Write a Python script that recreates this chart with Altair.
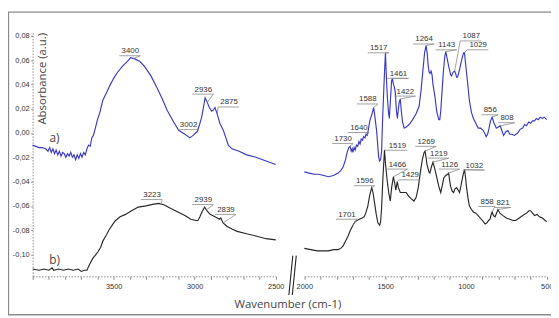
import altair as alt
import pandas as pd
import numpy as np

# ---------------- data ----------------
# spectrum a) , 4000-2500 cm-1 part
a_left_wn = [4000, 3980, 3960, 3940, 3920, 3905, 3895, 3885, 3875, 3865, 3855, 3845, 3835, 3825,
             3815, 3805, 3795, 3785, 3775, 3765, 3755, 3745, 3735, 3725, 3715, 3705, 3695, 3685,
             3675, 3665, 3655, 3645, 3635, 3625, 3615, 3600, 3585, 3567, 3545, 3524, 3500, 3476,
             3445, 3415, 3395, 3370, 3340, 3311, 3270, 3232, 3200, 3171, 3130, 3098, 3060, 3030,
             3010, 2995, 2985, 2970, 2957, 2945, 2936, 2925, 2910, 2895, 2884, 2875, 2862, 2845,
             2823, 2805, 2793, 2770, 2726, 2680, 2622, 2560, 2500]
a_left_val = [-0.010, -0.011, -0.012, -0.012, -0.013, -0.015, -0.012, -0.016, -0.013, -0.017, -0.014,
              -0.018, -0.015, -0.019, -0.016, -0.017, -0.020, -0.017, -0.019, -0.016, -0.020, -0.018,
              -0.022, -0.018, -0.021, -0.017, -0.020, -0.016, -0.018, -0.013, -0.010, -0.011, -0.004,
              -0.002, 0.003, 0.011, 0.017, 0.027, 0.033, 0.039, 0.045, 0.050, 0.055, 0.059, 0.062,
              0.061, 0.059, 0.055, 0.047, 0.037, 0.028, 0.019, 0.009, 0.002, -0.001, -0.004, -0.002,
              0.000, 0.001, 0.007, 0.013, 0.022, 0.029, 0.026, 0.021, 0.018, 0.019, 0.021, 0.016,
              0.008, 0.002, -0.005, -0.010, -0.013, -0.015, -0.018, -0.020, -0.023, -0.026]

# spectrum b) , 4000-2500 cm-1 part
b_left_wn = [4000, 3960, 3930, 3900, 3880, 3870, 3840, 3810, 3780, 3750, 3720, 3700, 3680, 3665,
             3655, 3640, 3628, 3615, 3598, 3580, 3567, 3545, 3530, 3505, 3488, 3460, 3427, 3390,
             3348, 3300, 3268, 3223, 3190, 3150, 3104, 3060, 3024, 2990, 2980, 2968, 2955, 2939,
             2925, 2905, 2890, 2860, 2848, 2839, 2825, 2800, 2770, 2738, 2680, 2616, 2560, 2500]
b_left_val = [-0.112, -0.113, -0.112, -0.113, -0.111, -0.113, -0.112, -0.113, -0.112, -0.113, -0.112,
              -0.114, -0.113, -0.113, -0.110, -0.106, -0.103, -0.101, -0.098, -0.094, -0.089, -0.084,
              -0.080, -0.075, -0.072, -0.069, -0.067, -0.064, -0.061, -0.060, -0.059, -0.058, -0.059,
              -0.062, -0.065, -0.068, -0.071, -0.072, -0.072, -0.069, -0.065, -0.061, -0.064, -0.067,
              -0.068, -0.070, -0.071, -0.070, -0.074, -0.077, -0.079, -0.081, -0.083, -0.085, -0.087,
              -0.088]

# spectrum a) , 2000-500 cm-1 part
a_right_wn = [2000, 1970, 1940, 1910, 1880, 1850, 1820, 1791, 1775, 1760, 1745, 1735, 1725, 1717,
              1710, 1704, 1699, 1692, 1685, 1678, 1670, 1662, 1655, 1648, 1640, 1633, 1625, 1618,
              1611, 1605, 1595, 1583, 1571, 1562, 1553, 1546, 1540, 1534, 1528, 1522, 1516, 1504,
              1498, 1492, 1486, 1480, 1474, 1466, 1460, 1455, 1449, 1443, 1437, 1430, 1424, 1418,
              1412, 1406, 1400, 1392, 1382, 1370, 1351, 1330, 1308, 1290, 1278, 1266, 1256, 1247,
              1240, 1234, 1228, 1222, 1216, 1210, 1204, 1192, 1180, 1168, 1162, 1156, 1150, 1140,
              1131, 1125, 1119, 1107, 1095, 1089, 1080, 1070, 1064, 1058, 1052, 1040, 1027, 1015,
              1009, 1003, 991, 979, 966, 954, 939, 924, 909, 893, 881, 875, 866, 857, 848, 838,
              826, 812, 800, 788, 778, 767, 753, 741, 729, 716, 700, 680, 665, 649, 637, 625, 612,
              600, 588, 576, 564, 552, 540, 527, 516, 500]
a_right_val = [-0.032, -0.033, -0.034, -0.034, -0.035, -0.036, -0.035, -0.033, -0.031, -0.028, -0.022,
               -0.016, -0.012, -0.011, -0.015, -0.013, -0.016, -0.012, -0.014, -0.010, -0.011, -0.007,
               -0.009, -0.005, -0.006, -0.003, -0.004, -0.001, -0.002, 0.002, 0.010, 0.015, 0.021,
               0.012, 0.002, -0.010, -0.020, -0.023, -0.022, -0.015, 0.010, 0.050, 0.066, 0.045,
               0.029, 0.018, 0.012, 0.030, 0.043, 0.045, 0.040, 0.038, 0.033, 0.018, 0.012, 0.020,
               0.026, 0.028, 0.018, 0.009, 0.004, 0.005, 0.007, 0.011, 0.016, 0.022, 0.035, 0.052,
               0.066, 0.072, 0.066, 0.056, 0.050, 0.049, 0.051, 0.048, 0.040, 0.030, 0.017, 0.011,
               0.011, 0.018, 0.030, 0.050, 0.063, 0.067, 0.063, 0.055, 0.048, 0.047, 0.050, 0.051,
               0.049, 0.046, 0.046, 0.052, 0.060, 0.066, 0.066, 0.058, 0.043, 0.027, 0.017, 0.012,
               0.008, 0.004, 0.004, 0.002, -0.001, -0.003, -0.001, 0.004, 0.010, 0.013, 0.008, 0.004,
               0.005, 0.006, 0.002, -0.002, 0.001, 0.002, -0.001, -0.001, -0.002, 0.000, 0.003,
               0.004, 0.007, 0.006, 0.009, 0.008, 0.010, 0.010, 0.012, 0.011, 0.013, 0.012, 0.013,
               0.011]

# spectrum b) , 2000-500 cm-1 part
b_right_wn = [2000, 1960, 1920, 1888, 1850, 1820, 1791, 1775, 1760, 1745, 1730, 1715, 1699, 1686,
              1674, 1660, 1643, 1630, 1620, 1607, 1595, 1583, 1575, 1565, 1555, 1545, 1534, 1528,
              1522, 1513, 1504, 1498, 1486, 1477, 1468, 1460, 1449, 1440, 1434, 1425, 1418, 1406,
              1390, 1370, 1355, 1339, 1322, 1308, 1295, 1283, 1270, 1259, 1253, 1247, 1241, 1229,
              1223, 1214, 1204, 1192, 1180, 1168, 1156, 1146, 1137, 1125, 1113, 1107, 1101, 1095,
              1085, 1076, 1068, 1058, 1048, 1040, 1030, 1020, 1009, 1003, 997, 988, 979, 966, 954,
              939, 924, 905, 893, 881, 870, 860, 851, 844, 838, 830, 820, 811, 802, 790, 771, 750,
              729, 710, 692, 670, 649, 625, 610, 600, 588, 576, 560, 545, 527, 510, 500]
b_right_val = [-0.095, -0.096, -0.097, -0.097, -0.097, -0.096, -0.096, -0.095, -0.093, -0.089, -0.085,
               -0.080, -0.076, -0.073, -0.072, -0.071, -0.070, -0.069, -0.066, -0.060, -0.051, -0.045,
               -0.049, -0.058, -0.067, -0.074, -0.076, -0.073, -0.062, -0.035, -0.014, -0.025, -0.041,
               -0.050, -0.056, -0.045, -0.036, -0.042, -0.047, -0.040, -0.045, -0.049, -0.049, -0.049,
               -0.052, -0.054, -0.056, -0.053, -0.045, -0.033, -0.022, -0.016, -0.015, -0.020, -0.026,
               -0.032, -0.033, -0.028, -0.024, -0.030, -0.037, -0.044, -0.049, -0.043, -0.037, -0.035,
               -0.034, -0.033, -0.039, -0.044, -0.048, -0.049, -0.046, -0.045, -0.047, -0.049, -0.043,
               -0.036, -0.030, -0.036, -0.044, -0.053, -0.060, -0.063, -0.065, -0.066, -0.068, -0.071,
               -0.073, -0.075, -0.074, -0.072, -0.071, -0.067, -0.065, -0.068, -0.069, -0.066, -0.063,
               -0.066, -0.068, -0.070, -0.071, -0.072, -0.072, -0.070, -0.068, -0.066, -0.064, -0.064,
               -0.066, -0.068, -0.067, -0.069, -0.070, -0.072, -0.073]

# peak annotations: text, text position (wn, absorbance), series, peak position (wn)
left_lab_text = ["3400", "3002", "2936", "2875", "3223", "2939", "2839"]
left_lab_x = [3397, 3038, 2947, 2788, 3263, 2947, 2807]
left_lab_y = [0.0673, 0.0065, 0.0357, 0.0251, -0.0511, -0.0552, -0.0633]
left_lab_series = ["a", "a", "a", "a", "b", "b", "b"]
left_lab_peak = [3378, 2983, 2922, 2861, 3208, 2928, 2825]

right_lab_text = ["1730", "1640", "1588", "1517", "1461", "1422", "1264", "1143", "1087", "1029",
                  "856", "808",
                  "1701", "1596", "1519", "1466", "1429", "1269", "1219", "1126", "1032", "858", "821"]
right_lab_x = [1760, 1662, 1607, 1540, 1418, 1375, 1259, 1119, 967, 924, 850, 746,
               1736, 1626, 1424, 1424, 1345, 1246, 1168, 1101, 948, 869, 771]
right_lab_y = [-0.0049, 0.0041, 0.0276, 0.0697, 0.0487, 0.0341, 0.0770, 0.0722, 0.0795, 0.0722,
               0.0187, 0.0122,
               -0.0673, -0.0397, -0.0105, -0.0260, -0.0349, -0.0073, -0.0170, -0.0260, -0.0268,
               -0.0568, -0.0576]
right_lab_series = ["a"] * 12 + ["b"] * 11
right_lab_peak = [1717, 1613, 1571, 1498, 1455, 1406, 1247, 1125, 1070, 1009, 838, 790,
                  1699, 1583, 1504, 1449, 1425, 1253, 1204, 1107, 1009, 838, 802]

curve_tags = ["a)", "b)"]
curve_tag_x = [3865, 3865]
curve_tag_y = [-0.004, -0.1046]

# ---------------- tables ----------------
df_left = pd.DataFrame({"wn": a_left_wn + b_left_wn, "val": a_left_val + b_left_val,
                        "series": ["a"] * len(a_left_wn) + ["b"] * len(b_left_wn)})
df_right = pd.DataFrame({"wn": a_right_wn + b_right_wn, "val": a_right_val + b_right_val,
                         "series": ["a"] * len(a_right_wn) + ["b"] * len(b_right_wn)})

curves = {
    ("L", "a"): (a_left_wn, a_left_val), ("L", "b"): (b_left_wn, b_left_val),
    ("R", "a"): (a_right_wn, a_right_val), ("R", "b"): (b_right_wn, b_right_val),
}


def curve_at(side, s, w):
    xs, ys_ = curves[(side, s)]
    return float(np.interp(w, xs[::-1], ys_[::-1]))


def leaders(side, texts, xs, ys_, series, peaks, k):
    rows = []
    for t, x, y, s, p in zip(texts, xs, ys_, series, peaks):
        hw = 4.6 * len(t) / 2 + 1          # half text width (px)
        lft, rgt = x + (hw + 1) * k, x - hw * k
        uy = y - 0.0037
        pv = curve_at(side, s, p)
        if p > lft:
            pts = [(p, pv), (lft, uy), (rgt, uy)]
        else:
            pts = [(lft, uy), (rgt, uy), (p, pv)]
        for i, (px, py) in enumerate(pts):
            rows.append({"lab": t + s, "ord": i, "wn": px, "val": py})
    return pd.DataFrame(rows)


lead_left = leaders("L", left_lab_text, left_lab_x, left_lab_y, left_lab_series, left_lab_peak, 6.083)
lead_right = leaders("R", right_lab_text, right_lab_x, right_lab_y, right_lab_series, right_lab_peak, 6.105)
lab_left = pd.DataFrame({"t": left_lab_text, "x": left_lab_x, "y": left_lab_y})
lab_right = pd.DataFrame({"t": right_lab_text, "x": right_lab_x, "y": right_lab_y})
tags = pd.DataFrame({"t": curve_tags, "x": curve_tag_x, "y": curve_tag_y})

# ---------------- scales / axes ----------------
W, H = 526, 248
ys = alt.Scale(domain=[-0.118, 0.0832], nice=False, zero=False)
xl = alt.Scale(domain=[4000, 2500], range=[0, 246.7], nice=False, zero=False)
xr = alt.Scale(domain=[2000, 500], range=[275.7, 521.7], nice=False, zero=False)

common = dict(domainDash=[1.5, 1.5], domainColor="#8c8c8c", tickColor="#8c8c8c",
              labelFont="Liberation Sans", labelFontSize=7.5, labelColor="#333333", grid=False,
              labelOverlap=False, labelFlush=False)

x_left_axis = alt.Axis(orient="bottom", values=list(range(4000, 2499, -100)),
                       labelExpr="datum.value % 500 === 0 && datum.value < 4000 ? format(datum.value, 'd') : ''",
                       tickSize=3, labelPadding=3,
                       title="Wavenumber (cm-1)", titleX=258.5, titleY=29, titleAlign="center",
                       titleBaseline="middle", titleFont="Open Sans", titleFontSize=11.5,
                       titleFontWeight="normal", titleColor="#444444", **common)
x_right_axis = alt.Axis(orient="bottom", values=list(range(2000, 499, -100)),
                        labelExpr="datum.value % 500 === 0 ? format(datum.value, 'd') : ''",
                        tickSize=3, labelPadding=3, title=None, **common)
y_axis = alt.Axis(orient="left", values=[-0.10, -0.08, -0.06, -0.04, -0.02, 0.0, 0.02, 0.04, 0.06, 0.08],
                  labelExpr="replace(replace(format(datum.value, '.2f'), '.', ','), '\u2212', '-')",
                  tickSize=2, labelPadding=1.5,
                  title="Absorbance (a.u.)", titleX=10, titleY=47, titleAngle=270, titleAlign="center",
                  titleBaseline="middle", titleFont="Open Sans", titleFontSize=11.5,
                  titleFontWeight="normal", titleColor="#444444", **common)

Y = dict(scale=ys, axis=y_axis)

color = alt.Color("series:N", scale=alt.Scale(domain=["a", "b"], range=["#3838c0", "#262626"]), legend=None)

left_lines = alt.Chart(df_left).mark_line(strokeWidth=1.15).encode(
    x=alt.X("wn:Q", scale=xl, axis=x_left_axis),
    y=alt.Y("val:Q", **Y), color=color)
right_lines = alt.Chart(df_right).mark_line(strokeWidth=1.15).encode(
    x=alt.X("wn:Q", scale=xr, axis=x_right_axis),
    y=alt.Y("val:Q", **Y), color=color)

lead_l = alt.Chart(lead_left).mark_line(color="#8a8a8a", strokeWidth=0.8).encode(
    x=alt.X("wn:Q", scale=xl, axis=None), y=alt.Y("val:Q", **Y),
    detail="lab:N", order="ord:Q")
lead_r = alt.Chart(lead_right).mark_line(color="#8a8a8a", strokeWidth=0.8).encode(
    x=alt.X("wn:Q", scale=xr, axis=None), y=alt.Y("val:Q", **Y),
    detail="lab:N", order="ord:Q")

txt = dict(font="Liberation Sans", fontSize=8, color="#333333", align="center", baseline="middle")
text_l = alt.Chart(lab_left).mark_text(**txt).encode(
    x=alt.X("x:Q", scale=xl, axis=None), y=alt.Y("y:Q", **Y), text="t:N")
text_r = alt.Chart(lab_right).mark_text(**txt).encode(
    x=alt.X("x:Q", scale=xr, axis=None), y=alt.Y("y:Q", **Y), text="t:N")
tag_t = alt.Chart(tags).mark_text(font="Open Sans", fontSize=12, color="#444444",
                                  align="center", baseline="middle").encode(
    x=alt.X("x:Q", scale=xl, axis=None), y=alt.Y("y:Q", **Y), text="t:N")

one = pd.DataFrame({"d": [0]})


def seg(x1, x2, y1, y2, c, w):
    return alt.Chart(one).mark_rule(color=c, strokeWidth=w).encode(
        x=alt.value(x1), x2=alt.value(x2), y=alt.value(y1), y2=alt.value(y2))


frame = [seg(-25, 530, -20, -20, "#8a8a8a", 1.3),
         seg(-24.5, -24.5, -20, 287, "#8a8a8a", 1.3),
         seg(-25, 530, 287, 287, "#8a8a8a", 1.3)]
brk = [seg(260, 264, 267, 227, "#222222", 1.1), seg(263.5, 267.5, 267, 227, "#222222", 1.1)]

chart = alt.layer(left_lines, right_lines, lead_l, lead_r, text_l, text_r, tag_t, *frame, *brk).resolve_scale(
    x="independent").properties(
    width=W, height=H, autosize=alt.AutoSizeParams(type="none"),
    padding={"left": 25, "top": 22, "right": 0, "bottom": 40}, background="white"
).configure_view(stroke=None)

chart.save("out.html", embed_options={"renderer": "svg", "actions": False})
